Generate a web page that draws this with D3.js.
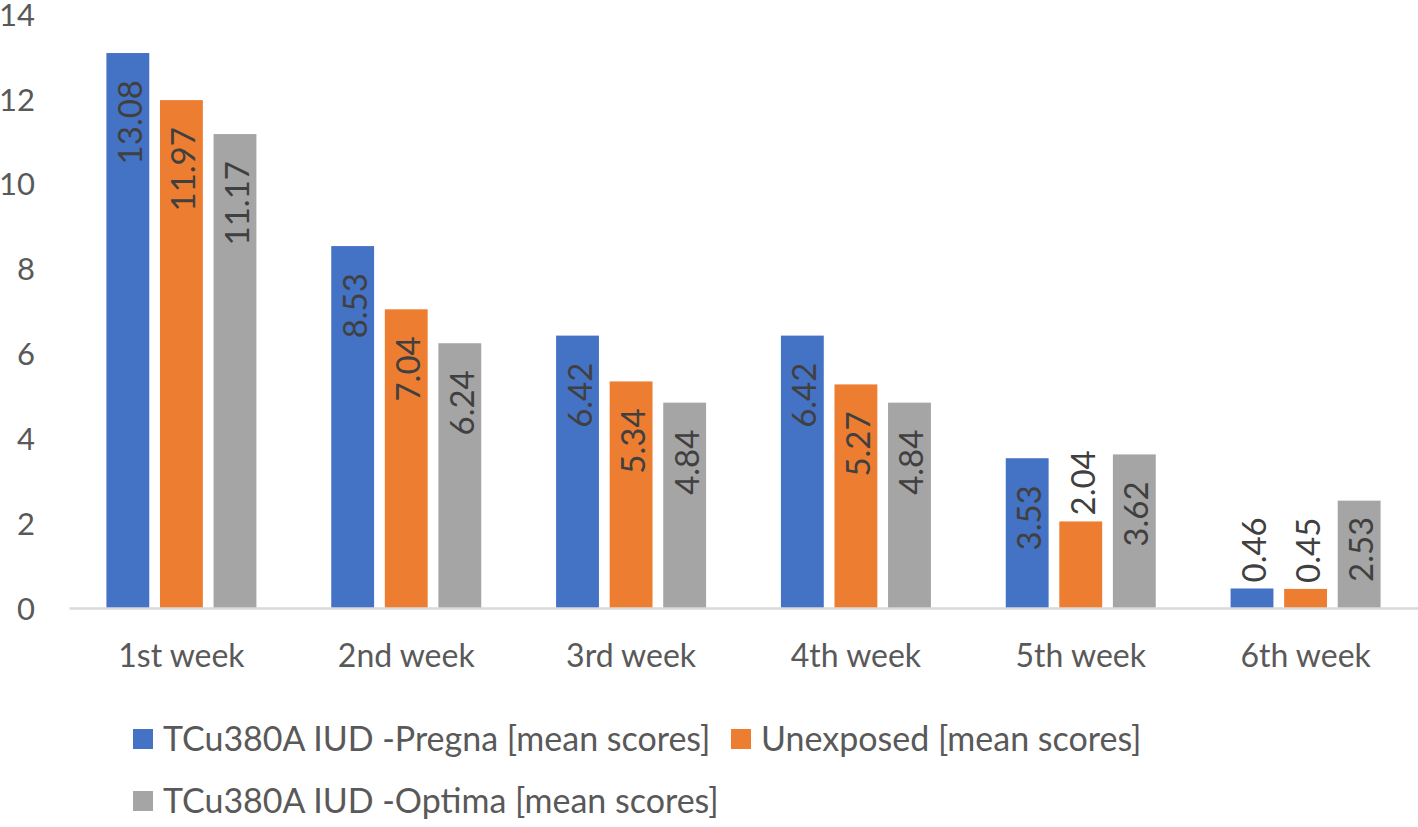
<!DOCTYPE html>
<html>
<head>
<meta charset="utf-8">
<script src="https://cdn.jsdelivr.net/npm/d3@7/dist/d3.min.js"></script>
<style>
  html, body { margin: 0; padding: 0; background: #fff; }
  svg { display: block; }
  text { font-family: Lato, "Open Sans", sans-serif; }
</style>
</head>
<body>
<svg id="chart" width="1418" height="827"></svg>
<script>
const categories = ["1st week", "2nd week", "3rd week", "4th week", "5th week", "6th week"];
const seriesNames = [
  "TCu380A IUD -Pregna [mean scores]",
  "Unexposed [mean scores]",
  "TCu380A IUD -Optima [mean scores]"
];
const pregna = [13.08, 8.53, 6.42, 6.42, 3.53, 0.46];
const unexposed = [11.97, 7.04, 5.34, 5.27, 2.04, 0.45];
const optima = [11.17, 6.24, 4.84, 4.84, 3.62, 2.53];
const yTicks = [0, 2, 4, 6, 8, 10, 12, 14];
const colors = ["#4472C4", "#ED7D31", "#A5A5A5"];

const series = [pregna, unexposed, optima];
const svg = d3.select("#chart");

const x = d3.scaleBand().domain(categories).range([69, 1418]).padding(0);
const y = d3.scaleLinear().domain([0, 14]).range([608, 14]);
const inner = d3.scaleBand().domain(d3.range(3)).range([-75, 75]).paddingInner(0.2).paddingOuter(0);

// y axis labels
const yAxis = d3.axisLeft(y).tickValues(yTicks).tickSize(0).tickPadding(0).tickFormat(d3.format("d"));
const gy = svg.append("g").attr("transform", "translate(35,0)").call(yAxis);
gy.select(".domain").remove();
gy.selectAll("text").attr("font-size", 31).attr("fill", "#595959")
  .attr("font-family", "Lato, 'Open Sans', sans-serif").attr("dy", "0.36em");

// bars
const groups = svg.append("g").selectAll("g").data(categories).join("g")
  .attr("transform", d => `translate(${x(d) + x.bandwidth() / 2},0)`);

series.forEach((vals, si) => {
  groups.append("rect")
    .attr("x", inner(si))
    .attr("width", inner.bandwidth())
    .attr("y", (d, i) => y(vals[i]))
    .attr("height", (d, i) => y(0) - y(vals[i]))
    .attr("fill", colors[si]);
});

// x axis
const xAxis = d3.axisBottom(x).tickSize(0).tickPadding(0);
const gx = svg.append("g").attr("transform", `translate(0,${y(0)})`).call(xAxis);
gx.select(".domain").attr("stroke", "#D9D9D9").attr("stroke-width", 2.5);
gx.selectAll("text").attr("font-size", 32).attr("fill", "#595959")
  .attr("font-family", "Lato, 'Open Sans', sans-serif").attr("dy", 0).attr("y", 59);

// data labels (rotated, inside end)
const labelLayer = svg.append("g");
series.forEach((vals, si) => {
  categories.forEach((c, i) => {
    const cx = x(c) + x.bandwidth() / 2 + inner(si) + inner.bandwidth() / 2;
    const top = y(vals[i]);
    const t = labelLayer.append("text")
      .attr("font-size", 33)
      .attr("fill", "#404040")
      .attr("text-anchor", "start")
      .attr("dominant-baseline", "central")
      .text(vals[i].toFixed(2));
    const len = t.node().getComputedTextLength();
    let tTop = top + 27;
    let tBottom = tTop + len;
    const maxBottom = y(0) - 26;
    if (tBottom > maxBottom) { tBottom = maxBottom; tTop = tBottom - len; }
    if (tTop < top) { tBottom = top - 6; tTop = tBottom - len; }
    t.attr("transform", `translate(${cx + 1},${tBottom}) rotate(-90)`);
  });
});

// legend
const legendItems = [
  { name: seriesNames[0], color: colors[0], x: 133, y: 739 },
  { name: seriesNames[1], color: colors[1], x: 731, y: 739 },
  { name: seriesNames[2], color: colors[2], x: 133, y: 801 }
];
const lg = svg.append("g").selectAll("g").data(legendItems).join("g")
  .attr("transform", d => `translate(${d.x},${d.y})`);
lg.append("rect").attr("x", 0).attr("y", -10).attr("width", 20).attr("height", 20).attr("fill", d => d.color);
lg.append("text").attr("x", 30).attr("y", 0).attr("dy", "0.36em")
  .attr("font-size", 34).attr("fill", "#595959").text(d => d.name);
</script>
</body>
</html>
